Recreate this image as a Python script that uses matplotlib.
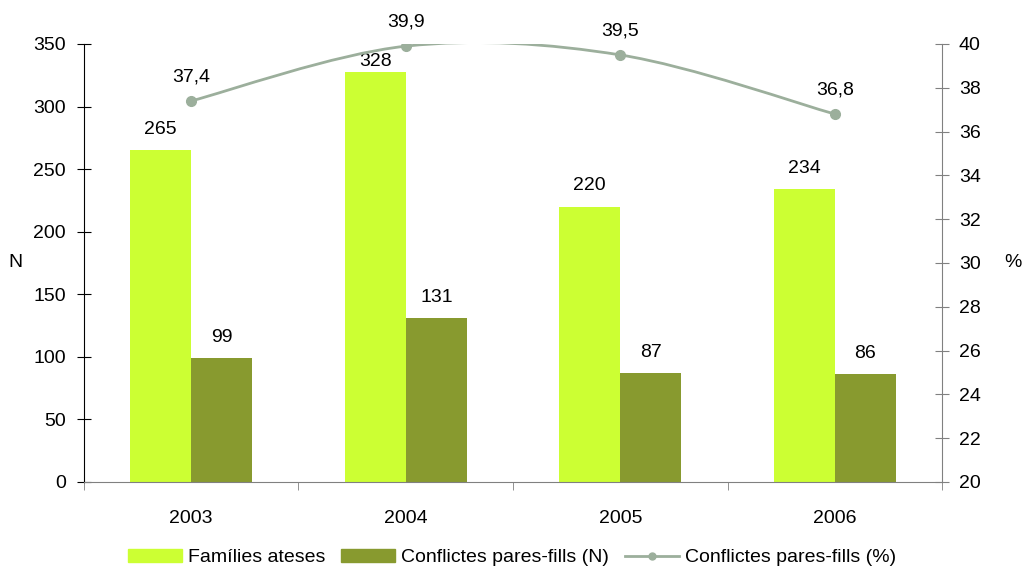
import matplotlib.pyplot as plt
import numpy as np
from matplotlib.path import Path
from matplotlib.patches import PathPatch
from matplotlib.lines import Line2D
from matplotlib.patches import Patch

plt.rcParams['font.family'] = ['Liberation Sans', 'DejaVu Sans']

years = ['2003', '2004', '2005', '2006']
families = [265, 328, 220, 234]
conflicts_n = [99, 131, 87, 86]
conflicts_pct = [37.4, 39.9, 39.5, 36.8]
pct_labels = ['37,4', '39,9', '39,5', '36,8']

light = '#ccff33'
dark = '#889a2f'
line_col = '#9caf9c'
fs = 14

fig = plt.figure(figsize=(10.24, 5.69), dpi=100)
ax = fig.add_axes([0.082, 0.153, 0.838, 0.7697])
x = np.arange(len(years))
w = 0.285

ax.bar(x - w / 2, families, w, color=light)
ax.bar(x + w / 2, conflicts_n, w, color=dark)
for xi, v in zip(x, families):
    ax.text(xi - w / 2, min(v + 10, 329), str(v), ha='center', va='bottom', fontsize=fs)
for xi, v in zip(x, conflicts_n):
    ax.text(xi + w / 2, v + 10, str(v), ha='center', va='bottom', fontsize=fs)

ax.set_xlim(-0.5, 3.5)
ax.set_ylim(0, 350)
ax.set_yticks(range(0, 351, 50))
ax.set_xticks(x)
ax.set_xticklabels(years, fontsize=fs)
ax.set_xticks(np.arange(-0.5, 4, 1), minor=True)
ax.tick_params(axis='x', which='major', length=0, pad=20)
ax.tick_params(axis='x', which='minor', length=6, direction='out', color='#808080')
ax.tick_params(axis='y', labelsize=fs, direction='inout', length=10, pad=8)
ax.spines['top'].set_visible(False)
ax.spines['right'].set_visible(False)
ax.spines['bottom'].set_color('#808080')
ax.set_ylabel('N', rotation=0, fontsize=fs, va='center', ha='center')
ax.yaxis.set_label_coords(-0.08, 0.5)

ax2 = ax.twinx()
ax2.set_ylim(20, 40)
ax2.set_yticks(range(20, 41, 2))
ax2.tick_params(axis='y', labelsize=fs, direction='inout', length=10, color='#808080', pad=7)
for s in ['top', 'left', 'bottom']:
    ax2.spines[s].set_visible(False)
ax2.spines['right'].set_color('#808080')
ax2.set_ylabel('%', rotation=0, fontsize=fs, va='center', ha='center')
ax2.yaxis.set_label_coords(1.082, 0.5)

# smoothed line (Excel-style Catmull-Rom through the data points)
pts = np.column_stack([x, conflicts_pct]).astype(float)
verts = [pts[0]]
codes = [Path.MOVETO]
n = len(pts)
for i in range(n - 1):
    p0 = pts[i - 1] if i > 0 else pts[i]
    p1 = pts[i]
    p2 = pts[i + 1]
    p3 = pts[i + 2] if i + 2 < n else pts[i + 1]
    c1 = p1 + (p2 - p0) / 6
    c2 = p2 - (p3 - p1) / 6
    verts += [c1, c2, p2]
    codes += [Path.CURVE4] * 3
ax2.add_patch(PathPatch(Path(verts, codes), fill=False, edgecolor=line_col, lw=2))
ax2.plot(x, conflicts_pct, 'o', color=line_col, ms=7)
for xi, v, lab in zip(x, conflicts_pct, pct_labels):
    ax2.text(xi, v + 0.7, lab, ha='center', va='bottom', fontsize=fs)

handles = [Patch(color=light), Patch(color=dark),
           Line2D([], [], color=line_col, lw=2, marker='o', ms=5)]
labels = ['Famílies ateses', 'Conflictes pares-fills (N)', 'Conflictes pares-fills (%)']
fig.legend(handles, labels, loc='center', bbox_to_anchor=(0.5, 0.02), ncol=3,
           frameon=False, fontsize=fs, handlelength=2.8, columnspacing=0.8,
           handletextpad=0.3)

fig.savefig('out.png', dpi=100)
